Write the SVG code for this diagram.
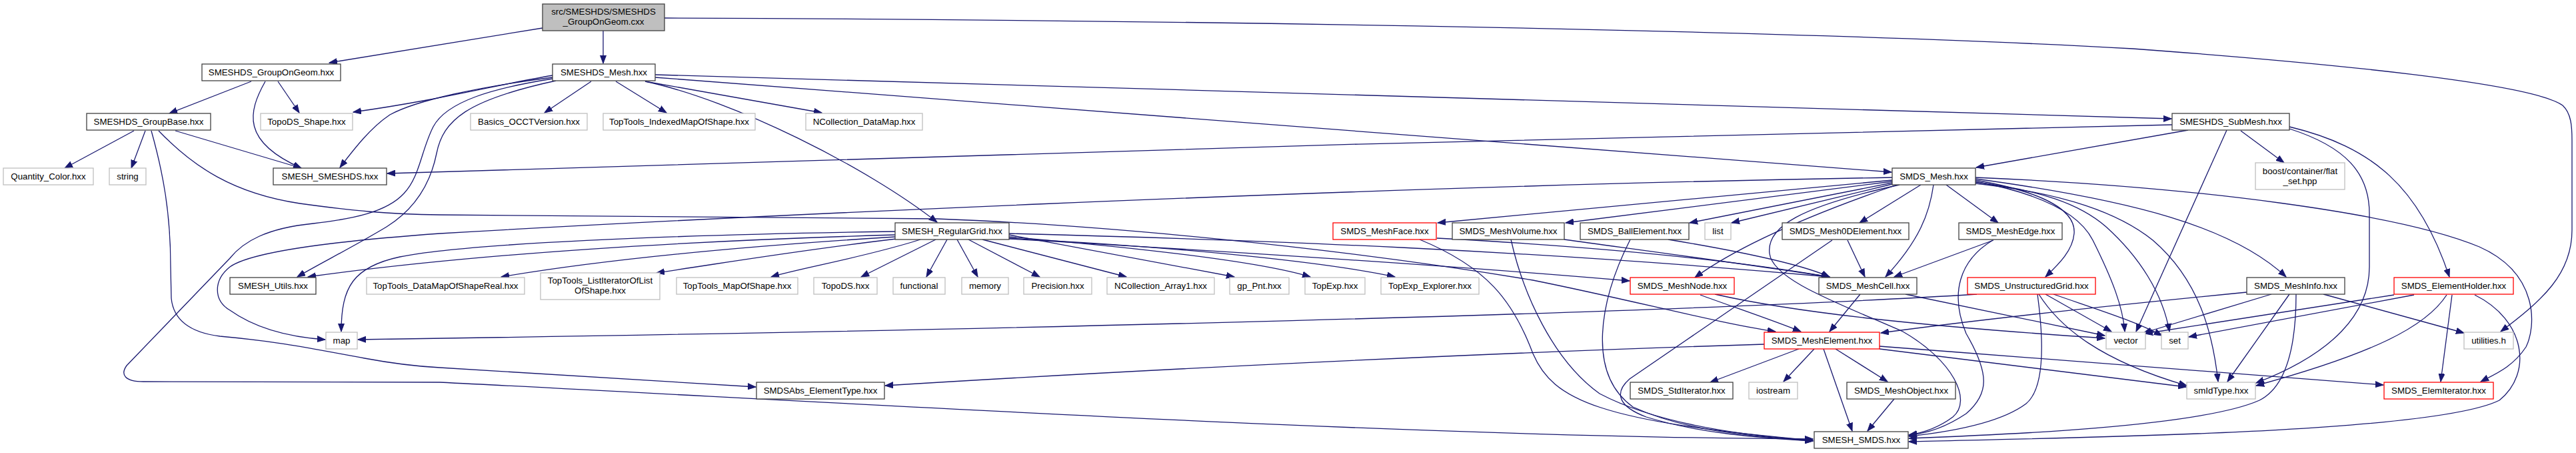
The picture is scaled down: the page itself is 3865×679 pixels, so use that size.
<svg xmlns="http://www.w3.org/2000/svg" width="3865" height="679" viewBox="0 0 3865 679">
<style>
.e{fill:none;stroke:#191970;stroke-width:1.3;marker-end:url(#a)}
.n rect{fill:#fff;stroke:#404040;stroke-width:1.3}
.g rect{fill:#fff;stroke:#bfbfbf;stroke-width:1.3}
.r rect{fill:#fff;stroke:#ff0000;stroke-width:1.3}
.root rect{fill:#bfbfbf;stroke:#404040;stroke-width:1.3}
text{font-family:"Liberation Sans",Arial,sans-serif;font-size:13.3px;fill:#000;text-anchor:middle}
</style>
<defs>
<marker id="a" markerUnits="userSpaceOnUse" markerWidth="13" markerHeight="10" refX="12" refY="5" orient="auto" viewBox="0 0 13 10">
<path d="M0,0.5 L12,5 L0,9.5 z" fill="#191970" stroke="#191970" stroke-width="1"/>
</marker>
</defs>
<rect width="3865" height="679" fill="#fff"/>
<g id="edges">
<path class="e" d="M814,42 L494,94"/>
<path class="e" d="M905,46 L905,95"/>
<path class="e" d="M997,27 C1800,30 2700,45 3200,73 C3500,95 3800,125 3845,158 C3858,170 3859,190 3859,210 L3859,345 C3859,410 3815,450 3752,497"/>
<path class="e" d="M417,122 L449,169"/>
<path class="e" d="M377,122 L254,170"/>
<path class="e" d="M398,122 C372,168 362,212 452,252"/>
<path class="e" d="M201,196 L97,252"/>
<path class="e" d="M218,196 L197,252"/>
<path class="e" d="M263,196 L452,252"/>
<path class="e" d="M227,196 C245,260 256,320 256,400 L257,447 C260,478 282,498 330,504 C420,512 470,523 547,537 C590,545 620,549 660,551 L1134,580"/>
<path class="e" d="M238,196 C290,250 350,290 450,305 C530,316 580,321 660,322 L1406,328 C1650,337 2000,370 2300,420 C2450,450 2580,485 2664,497"/>
<path class="e" d="M887,122 L817,169"/>
<path class="e" d="M924,122 L1000,169"/>
<path class="e" d="M968,122 L1233,169"/>
<path class="e" d="M968,122 C1100,150 1300,250 1406,333"/>
<path class="e" d="M983,112 C1800,133 3000,176 3258,178"/>
<path class="e" d="M983,116 L2838,258"/>
<path class="e" d="M829,113 C745,127 660,150 530,168"/>
<path class="e" d="M829,116 C720,130 625,150 585,172 C555,192 530,225 510,251"/>
<path class="e" d="M829,118 C740,132 670,152 650,190 C632,225 630,265 606,290 C580,318 530,328 470,335 C400,342 365,362 345,387 L190,548 C180,562 188,572 215,572 L660,573 C1300,605 2100,655 2720,658"/>
<path class="e" d="M834,121 C700,150 665,180 655,230 C645,280 620,315 580,340 C530,370 480,395 446,415"/>
<path class="e" d="M2839,266 C2000,280 1000,330 660,350 C520,360 380,375 345,400 C320,420 320,450 345,465 C380,490 430,505 488,509"/>
<path class="e" d="M1343,347 C1000,352 700,365 600,385 C530,400 512,430 512,497"/>
<path class="e" d="M1343,352 C1000,362 700,382 462,415"/>
<path class="e" d="M1343,355 C1100,370 900,390 752,415"/>
<path class="e" d="M1345,358 C1200,375 1100,392 985,409"/>
<path class="e" d="M1381,359 C1300,385 1200,402 1157,415"/>
<path class="e" d="M1404,359 L1292,415"/>
<path class="e" d="M1421,359 L1390,415"/>
<path class="e" d="M1436,359 L1467,415"/>
<path class="e" d="M1453,359 L1560,415"/>
<path class="e" d="M1474,359 L1690,415"/>
<path class="e" d="M1514,352 L1852,415"/>
<path class="e" d="M1514,355 C1750,375 1900,395 1966,415"/>
<path class="e" d="M1514,357 C1800,372 2000,395 2093,415"/>
<path class="e" d="M1514,358 C1900,380 2200,400 2445,421"/>
<path class="e" d="M1514,350 C1900,360 2300,375 2745,415"/>
<path class="e" d="M2156,357 C2400,370 2600,390 2745,415"/>
<path class="e" d="M2347,359 C2500,380 2650,400 2745,415"/>
<path class="e" d="M2503,359 C2600,375 2700,395 2745,415"/>
<path class="e" d="M2130,359 C2230,400 2270,450 2300,530 C2330,600 2400,632 2720,660"/>
<path class="e" d="M2267,359 C2285,440 2330,540 2400,590 C2480,632 2600,652 2720,660"/>
<path class="e" d="M2446,359 C2400,450 2380,560 2450,610 C2520,642 2600,652 2720,661"/>
<path class="e" d="M2749,360 L2445,568 C2420,590 2430,610 2470,625 C2550,650 2640,656 2720,661"/>
<path class="e" d="M2772,360 L2798,415"/>
<path class="e" d="M2901,277 C2895,320 2880,360 2829,415"/>
<path class="e" d="M2991,360 L2842,415"/>
<path class="e" d="M2990,360 C2940,390 2925,440 2950,500 C2985,560 2985,590 2950,620 C2920,640 2890,650 2864,652"/>
<path class="e" d="M2791,441 L2745,497"/>
<path class="e" d="M2859,441 L3158,503"/>
<path class="e" d="M2736,523 L2779,646"/>
<path class="e" d="M2699,523 L2566,573"/>
<path class="e" d="M2722,523 L2676,572"/>
<path class="e" d="M2754,523 L2832,572"/>
<path class="e" d="M2842,598 L2802,646"/>
<path class="e" d="M2647,516 C2200,530 1700,555 1328,578"/>
<path class="e" d="M2820,519 C3100,540 3400,565 3576,577"/>
<path class="e" d="M2820,523 C3000,545 3150,563 3280,580"/>
<path class="e" d="M2966,441 C2500,470 1500,495 537,509"/>
<path class="e" d="M3057,441 C3065,500 3070,580 3040,605 C3000,635 2920,648 2864,654"/>
<path class="e" d="M3059,441 C3090,490 3150,540 3281,578"/>
<path class="e" d="M3069,441 L3168,497"/>
<path class="e" d="M3081,441 C3150,465 3200,480 3244,503"/>
<path class="e" d="M2839,270 L2157,334"/>
<path class="e" d="M2839,272 L2349,334"/>
<path class="e" d="M2839,274 L2535,334"/>
<path class="e" d="M2839,276 L2598,334"/>
<path class="e" d="M2882,277 L2790,334"/>
<path class="e" d="M2920,277 L2998,334"/>
<path class="e" d="M2846,277 C2750,310 2620,360 2543,416"/>
<path class="e" d="M2850,277 C2700,310 2650,340 2655,380 C2660,420 2760,455 2855,497 C2930,540 2960,600 2930,625 C2910,640 2890,648 2864,652"/>
<path class="e" d="M2964,268 C3200,300 3350,340 3430,415"/>
<path class="e" d="M2964,266 C3300,280 3600,320 3720,370 C3810,410 3805,490 3790,520 C3770,550 3745,560 3722,572"/>
<path class="e" d="M2964,270 C3050,285 3115,310 3112,350 C3110,375 3090,395 3069,415"/>
<path class="e" d="M2964,272 C3060,290 3120,320 3140,360 C3170,420 3185,460 3188,497"/>
<path class="e" d="M2964,273 C3060,285 3120,305 3160,340 C3210,385 3245,440 3255,497"/>
<path class="e" d="M2964,275 C3100,290 3180,320 3230,360 C3300,420 3320,500 3328,572"/>
<path class="e" d="M3259,187 C2500,200 1200,240 581,260"/>
<path class="e" d="M3283,195 L2965,251"/>
<path class="e" d="M3341,195 L3205,497"/>
<path class="e" d="M3362,196 L3427,244"/>
<path class="e" d="M3435,193 C3520,220 3555,260 3555,320 L3555,400 C3555,470 3500,530 3385,574"/>
<path class="e" d="M3435,190 C3560,220 3630,280 3675,415"/>
<path class="e" d="M3408,441 L3216,499"/>
<path class="e" d="M3435,441 L3342,572"/>
<path class="e" d="M3445,441 C3445,520 3430,580 3390,600 C3300,640 3000,652 2864,657"/>
<path class="e" d="M3486,441 L3697,499"/>
<path class="e" d="M3371,438 C3200,455 3000,475 2822,499"/>
<path class="e" d="M3592,442 L3218,500"/>
<path class="e" d="M3622,442 L3284,505"/>
<path class="e" d="M3671,442 C3640,490 3560,530 3385,578"/>
<path class="e" d="M3679,442 L3662,572"/>
<path class="e" d="M3713,442 C3790,480 3800,560 3750,600 C3650,650 3100,656 2864,662"/>
<path class="e" d="M2551,442 C2600,460 2660,480 2702,497"/>
<path class="e" d="M2573,441 C2700,470 2900,490 3158,507"/>
</g>
<g id="n0" class="root"><rect x="814" y="6" width="183" height="40"/><text x="905.5" y="22">src/SMESHDS/SMESHDS</text><text x="905.5" y="37">_GroupOnGeom.cxx</text></g>
<g id="n1" class="n"><rect x="303" y="96" width="208" height="25"/><text x="407" y="113">SMESHDS_GroupOnGeom.hxx</text></g>
<g id="n2" class="n"><rect x="829" y="96" width="154" height="25"/><text x="906" y="113">SMESHDS_Mesh.hxx</text></g>
<g id="n3" class="n"><rect x="130" y="170" width="186" height="25"/><text x="223" y="187">SMESHDS_GroupBase.hxx</text></g>
<g id="n4" class="g"><rect x="391" y="170" width="138" height="25"/><text x="460" y="187">TopoDS_Shape.hxx</text></g>
<g id="n5" class="g"><rect x="706" y="170" width="175" height="25"/><text x="793.5" y="187">Basics_OCCTVersion.hxx</text></g>
<g id="n6" class="g"><rect x="905" y="170" width="228" height="25"/><text x="1019" y="187">TopTools_IndexedMapOfShape.hxx</text></g>
<g id="n7" class="g"><rect x="1209" y="170" width="175" height="25"/><text x="1296.5" y="187">NCollection_DataMap.hxx</text></g>
<g id="n8" class="n"><rect x="3259" y="170" width="176" height="25"/><text x="3347" y="187">SMESHDS_SubMesh.hxx</text></g>
<g id="n9" class="g"><rect x="5" y="252" width="135" height="25"/><text x="72.5" y="269">Quantity_Color.hxx</text></g>
<g id="n10" class="g"><rect x="164" y="252" width="55" height="25"/><text x="191.5" y="269">string</text></g>
<g id="n11" class="n"><rect x="410" y="252" width="170" height="25"/><text x="495" y="269">SMESH_SMESHDS.hxx</text></g>
<g id="n12" class="n"><rect x="2839" y="252" width="125" height="25"/><text x="2901.5" y="269">SMDS_Mesh.hxx</text></g>
<g id="n13" class="g"><rect x="3384" y="244" width="134" height="40"/><text x="3451" y="261">boost/container/flat</text><text x="3451" y="276">_set.hpp</text></g>
<g id="n14" class="n"><rect x="1343" y="334" width="171" height="25"/><text x="1428.5" y="351">SMESH_RegularGrid.hxx</text></g>
<g id="n15" class="r"><rect x="2000" y="334" width="155" height="25"/><text x="2077.5" y="351">SMDS_MeshFace.hxx</text></g>
<g id="n16" class="n"><rect x="2179" y="334" width="168" height="25"/><text x="2263" y="351">SMDS_MeshVolume.hxx</text></g>
<g id="n17" class="n"><rect x="2371" y="334" width="163" height="25"/><text x="2452.5" y="351">SMDS_BallElement.hxx</text></g>
<g id="n18" class="g"><rect x="2558" y="334" width="39" height="25"/><text x="2577.5" y="351">list</text></g>
<g id="n19" class="n"><rect x="2674" y="334" width="190" height="25"/><text x="2769" y="351">SMDS_Mesh0DElement.hxx</text></g>
<g id="n20" class="n"><rect x="2939" y="334" width="155" height="25"/><text x="3016.5" y="351">SMDS_MeshEdge.hxx</text></g>
<g id="n21" class="n"><rect x="345" y="416" width="129" height="25"/><text x="409.5" y="433">SMESH_Utils.hxx</text></g>
<g id="n22" class="g"><rect x="550" y="416" width="237" height="25"/><text x="668.5" y="433">TopTools_DataMapOfShapeReal.hxx</text></g>
<g id="n23" class="g"><rect x="811" y="409" width="179" height="40"/><text x="900.5" y="425">TopTools_ListIteratorOfList</text><text x="900.5" y="440">OfShape.hxx</text></g>
<g id="n24" class="g"><rect x="1015" y="416" width="182" height="25"/><text x="1106" y="433">TopTools_MapOfShape.hxx</text></g>
<g id="n25" class="g"><rect x="1221" y="416" width="95" height="25"/><text x="1268.5" y="433">TopoDS.hxx</text></g>
<g id="n26" class="g"><rect x="1340" y="416" width="78" height="25"/><text x="1379" y="433">functional</text></g>
<g id="n27" class="g"><rect x="1443" y="416" width="70" height="25"/><text x="1478" y="433">memory</text></g>
<g id="n28" class="g"><rect x="1536" y="416" width="102" height="25"/><text x="1587" y="433">Precision.hxx</text></g>
<g id="n29" class="g"><rect x="1661" y="416" width="161" height="25"/><text x="1741.5" y="433">NCollection_Array1.hxx</text></g>
<g id="n30" class="g"><rect x="1845" y="416" width="89" height="25"/><text x="1889.5" y="433">gp_Pnt.hxx</text></g>
<g id="n31" class="g"><rect x="1958" y="416" width="90" height="25"/><text x="2003" y="433">TopExp.hxx</text></g>
<g id="n32" class="g"><rect x="2072" y="416" width="147" height="25"/><text x="2145.5" y="433">TopExp_Explorer.hxx</text></g>
<g id="n33" class="r"><rect x="2446" y="416" width="156" height="25"/><text x="2524" y="433">SMDS_MeshNode.hxx</text></g>
<g id="n34" class="n"><rect x="2729" y="416" width="147" height="25"/><text x="2802.5" y="433">SMDS_MeshCell.hxx</text></g>
<g id="n35" class="r"><rect x="2952" y="416" width="192" height="25"/><text x="3048" y="433">SMDS_UnstructuredGrid.hxx</text></g>
<g id="n36" class="n"><rect x="3371" y="416" width="147" height="25"/><text x="3444.5" y="433">SMDS_MeshInfo.hxx</text></g>
<g id="n37" class="r"><rect x="3592" y="416" width="179" height="25"/><text x="3681.5" y="433">SMDS_ElementHolder.hxx</text></g>
<g id="n38" class="g"><rect x="489" y="498" width="47" height="25"/><text x="512.5" y="515">map</text></g>
<g id="n39" class="r"><rect x="2647" y="498" width="173" height="25"/><text x="2733.5" y="515">SMDS_MeshElement.hxx</text></g>
<g id="n40" class="g"><rect x="3160" y="498" width="59" height="25"/><text x="3189.5" y="515">vector</text></g>
<g id="n41" class="g"><rect x="3243" y="498" width="40" height="25"/><text x="3263" y="515">set</text></g>
<g id="n42" class="g"><rect x="3697" y="498" width="74" height="25"/><text x="3734" y="515">utilities.h</text></g>
<g id="n43" class="n"><rect x="1135" y="573" width="192" height="25"/><text x="1231" y="590">SMDSAbs_ElementType.hxx</text></g>
<g id="n44" class="n"><rect x="2446" y="573" width="154" height="25"/><text x="2523" y="590">SMDS_StdIterator.hxx</text></g>
<g id="n45" class="g"><rect x="2624" y="573" width="73" height="25"/><text x="2660.5" y="590">iostream</text></g>
<g id="n46" class="n"><rect x="2771" y="573" width="163" height="25"/><text x="2852.5" y="590">SMDS_MeshObject.hxx</text></g>
<g id="n47" class="g"><rect x="3281" y="573" width="103" height="25"/><text x="3332.5" y="590">smIdType.hxx</text></g>
<g id="n48" class="r"><rect x="3577" y="573" width="164" height="25"/><text x="3659" y="590">SMDS_ElemIterator.hxx</text></g>
<g id="n49" class="n"><rect x="2722" y="647" width="141" height="25"/><text x="2792.5" y="664">SMESH_SMDS.hxx</text></g>
</svg>
